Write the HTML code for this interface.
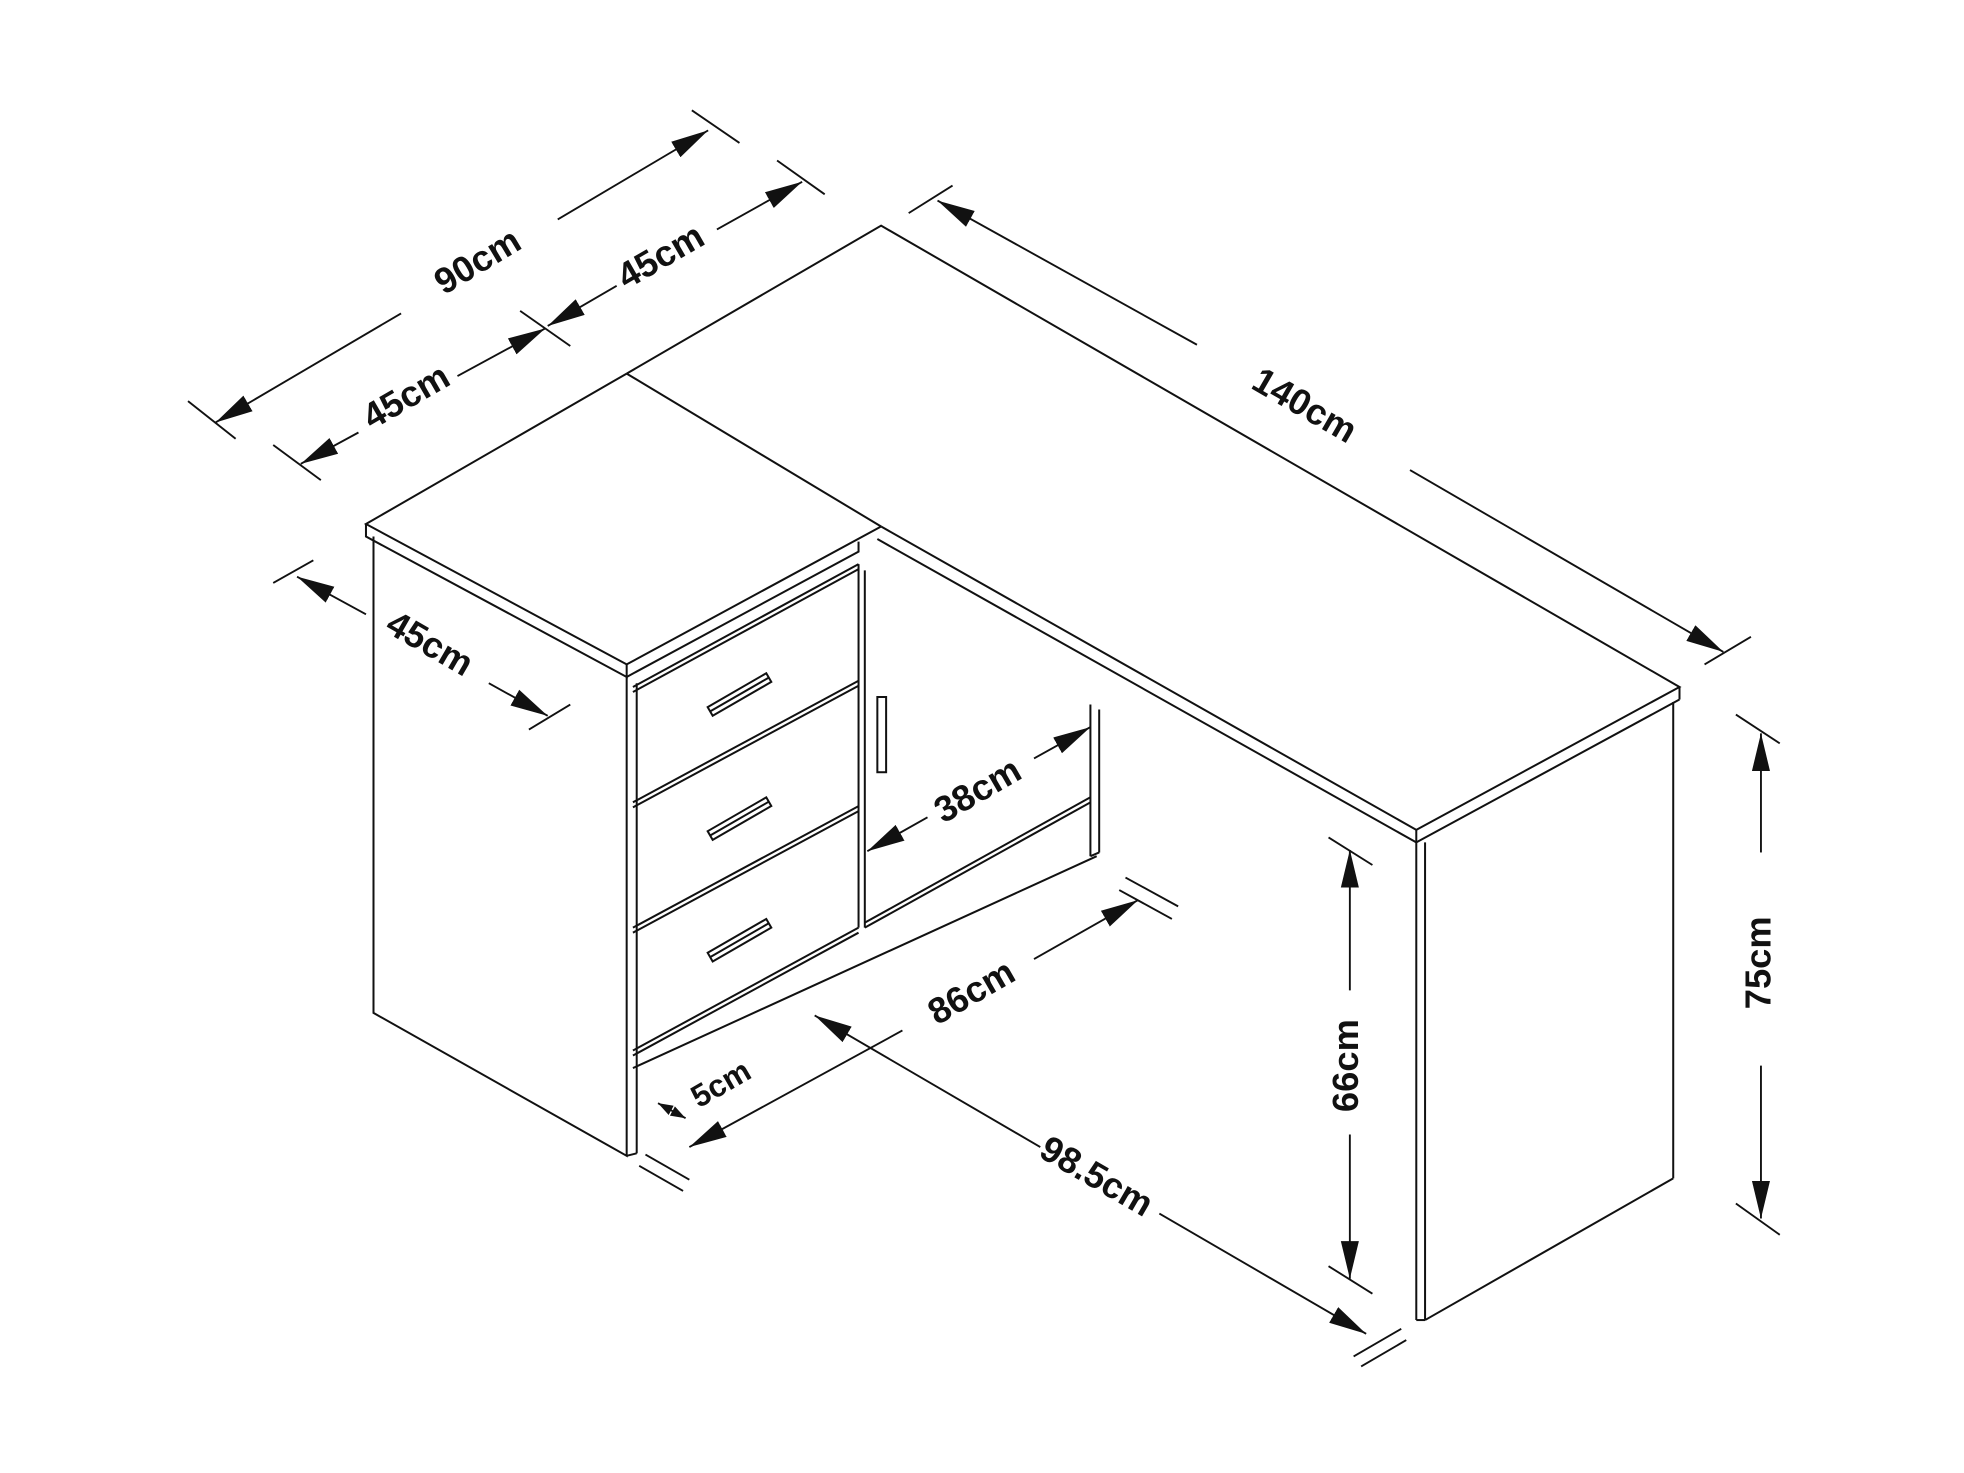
<!DOCTYPE html>
<html><head><meta charset="utf-8"><style>
html,body{margin:0;padding:0;background:#fff;}
svg{display:block}
text{font-family:"Liberation Sans",sans-serif;font-weight:bold;font-size:29px;fill:#111;text-anchor:middle;dominant-baseline:middle}
</style></head><body>
<svg width="1964" height="1473" viewBox="0 0 1567 1175" preserveAspectRatio="none" xmlns="http://www.w3.org/2000/svg">
<defs>
<marker id="a" viewBox="0 0 10 10" refX="10" refY="5" markerWidth="12" markerHeight="12" markerUnits="userSpaceOnUse" orient="auto-start-reverse">
<path d="M0,1.5 L10,5 L0,8.5 Z" fill="#111"/></marker>
<marker id="b" viewBox="0 0 10 10" refX="10" refY="5" markerWidth="30" markerHeight="30" markerUnits="userSpaceOnUse" orient="auto-start-reverse">
<path d="M0,2.6 L10,5 L0,7.4 Z" fill="#111"/></marker>
</defs>
<g stroke="#111" stroke-width="1.6" fill="none">
<polyline points="500,298 703,180 1340,548 1130,662 703,420"/>
<line x1="500" y1="298" x2="703" y2="420"/>
<line x1="1340" y1="548" x2="1340" y2="558"/>
<line x1="1130" y1="662" x2="1130" y2="672"/>
<line x1="1130" y1="672" x2="1340" y2="558"/>
<line x1="700" y1="430" x2="1130" y2="672"/>
<polyline points="500,298 292,418 500,530 703,420"/>
<polyline points="292,418 292,428 500,540 500,530"/>
<polyline points="500,540 685,440 685,432"/>
<polyline points="298,428 298,808 500,922 500,540"/>
<line x1="508" y1="545" x2="508" y2="920"/>
<line x1="500" y1="922" x2="508" y2="920"/>
<line x1="505" y1="548" x2="685" y2="450"/>
<line x1="505" y1="552" x2="685" y2="454"/>
<line x1="505" y1="640" x2="685" y2="543"/>
<line x1="505" y1="644" x2="685" y2="547"/>
<line x1="505" y1="740" x2="685" y2="643"/>
<line x1="505" y1="744" x2="685" y2="647"/>
<line x1="505" y1="838" x2="685" y2="740"/>
<line x1="505" y1="842" x2="685" y2="744"/>
<line x1="505" y1="852" x2="875" y2="683"/>
<line x1="685" y1="450" x2="685" y2="740"/>
<line x1="690" y1="455" x2="690" y2="740"/>
<line x1="690" y1="736" x2="870" y2="636"/>
<line x1="690" y1="740" x2="870" y2="640"/>
<line x1="870" y1="562" x2="870" y2="683"/>
<line x1="877" y1="566" x2="877" y2="680"/>
<line x1="870" y1="683" x2="877" y2="680"/>
<line x1="1130" y1="672" x2="1130" y2="1053"/>
<line x1="1137" y1="672" x2="1137" y2="1053"/>
<line x1="1130" y1="1053" x2="1137" y2="1053"/>
<line x1="1137" y1="1053" x2="1335" y2="940"/>
<line x1="1335" y1="560" x2="1335" y2="940"/>
<g transform="translate(590,554) rotate(-30)"><rect x="-27" y="-4" width="54" height="8"/><line x1="-27" y1="0" x2="27" y2="0"/></g>
<g transform="translate(590,653) rotate(-30)"><rect x="-27" y="-4" width="54" height="8"/><line x1="-27" y1="0" x2="27" y2="0"/></g>
<g transform="translate(590,750) rotate(-30)"><rect x="-27" y="-4" width="54" height="8"/><line x1="-27" y1="0" x2="27" y2="0"/></g>
<rect x="700" y="556" width="7" height="60"/>
</g>
<g stroke="#111" stroke-width="1.5" fill="none">
<line x1="172" y1="337" x2="320" y2="250" marker-start="url(#b)"/>
<line x1="445" y1="175" x2="565" y2="104" marker-end="url(#b)"/>
<line x1="150" y1="320" x2="188" y2="350"/><line x1="552" y1="88" x2="590" y2="114"/>
<line x1="240" y1="370" x2="286" y2="345" marker-start="url(#b)"/>
<line x1="365" y1="300" x2="435" y2="262" marker-end="url(#b)"/>
<line x1="218" y1="355" x2="256" y2="383"/><line x1="415" y1="248" x2="455" y2="276"/>
<line x1="437" y1="260" x2="492" y2="228" marker-start="url(#b)"/>
<line x1="572" y1="183" x2="640" y2="145" marker-end="url(#b)"/>
<line x1="620" y1="128" x2="658" y2="155"/>
<line x1="748" y1="160" x2="955" y2="275" marker-start="url(#b)"/>
<line x1="1125" y1="375" x2="1375" y2="520" marker-end="url(#b)"/>
<line x1="725" y1="170" x2="760" y2="148"/><line x1="1360" y1="530" x2="1397" y2="508"/>
<line x1="237" y1="460" x2="292" y2="490" marker-start="url(#b)"/>
<line x1="390" y1="545" x2="437" y2="571" marker-end="url(#b)"/>
<line x1="218" y1="465" x2="250" y2="447"/><line x1="422" y1="582" x2="455" y2="562"/>
<line x1="692" y1="679" x2="740" y2="652" marker-start="url(#b)"/>
<line x1="825" y1="605" x2="870" y2="580" marker-end="url(#b)"/>
<line x1="550" y1="915" x2="720" y2="822" marker-start="url(#b)"/>
<line x1="825" y1="765" x2="908" y2="718" marker-end="url(#b)"/>
<line x1="898" y1="700" x2="940" y2="723"/><line x1="893" y1="710" x2="935" y2="733"/>
<line x1="510" y1="930" x2="545" y2="950"/><line x1="515" y1="921" x2="550" y2="941"/>
<line x1="650" y1="810" x2="830" y2="915" marker-start="url(#b)"/>
<line x1="925" y1="968" x2="1090" y2="1064" marker-end="url(#b)"/>
<line x1="1080" y1="1082" x2="1118" y2="1060"/><line x1="1086" y1="1090" x2="1122" y2="1069"/>
<line x1="525" y1="880" x2="547" y2="892" marker-end="url(#a)" marker-start="url(#a)"/>
<line x1="1077" y1="678" x2="1077" y2="790" marker-start="url(#b)"/>
<line x1="1077" y1="905" x2="1077" y2="1020" marker-end="url(#b)"/>
<line x1="1060" y1="668" x2="1095" y2="690"/><line x1="1060" y1="1010" x2="1095" y2="1032"/>
<line x1="1405" y1="585" x2="1405" y2="680" marker-start="url(#b)"/>
<line x1="1405" y1="850" x2="1405" y2="972" marker-end="url(#b)"/>
<line x1="1385" y1="570" x2="1420" y2="593"/><line x1="1385" y1="960" x2="1420" y2="985"/>
</g>
<text transform="translate(382,210) rotate(-31)">90cm</text>
<text transform="translate(325,318) rotate(-30)">45cm</text>
<text transform="translate(528,206) rotate(-30)">45cm</text>
<text transform="translate(1040,325) rotate(30)">140cm</text>
<text transform="translate(342,515) rotate(30)">45cm</text>
<text transform="translate(781,632) rotate(-30)">38cm</text>
<text transform="translate(776,793) rotate(-30)">86cm</text>
<text transform="translate(874,940) rotate(30)">98.5cm</text>
<text transform="translate(576,866) rotate(-30)" style="font-size:25px">5cm</text>
<text transform="translate(1076,850) rotate(-90)">66cm</text>
<text transform="translate(1405,768) rotate(-90)">75cm</text>
</svg>
</body></html>
